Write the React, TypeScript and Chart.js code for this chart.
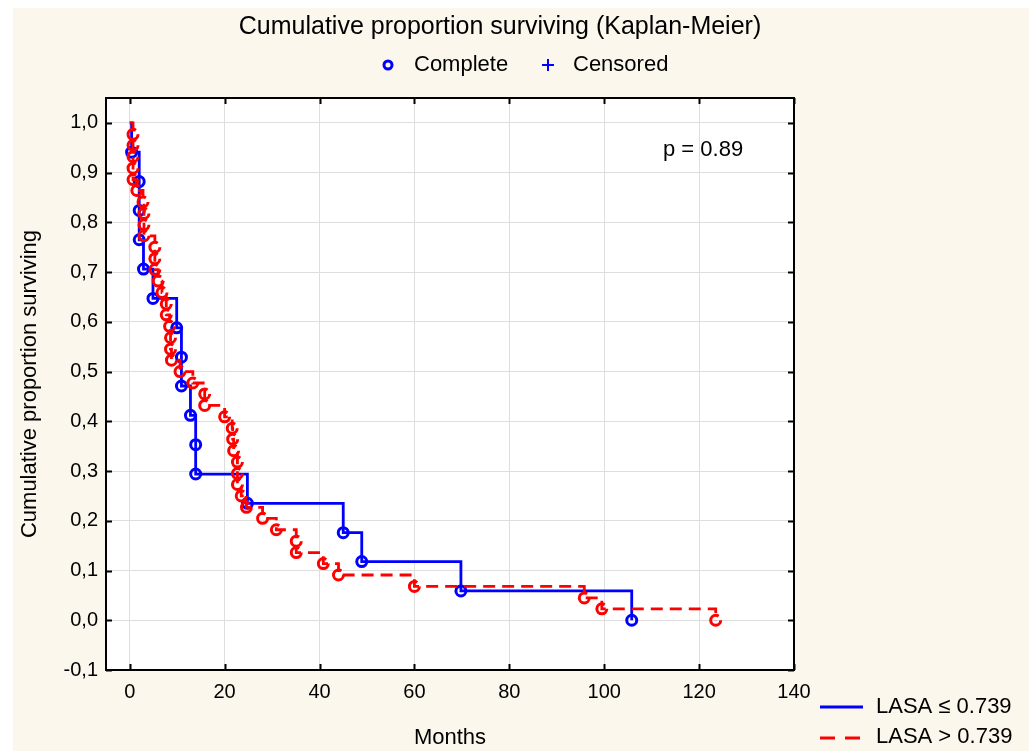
import React, { useEffect, useRef } from "react";
import { Chart, registerables } from "chart.js";

Chart.register(...registerables);

// ---------- text ----------
const chartTitle = "Cumulative proportion surviving (Kaplan-Meier)";
const xAxisTitle = "Months";
const yAxisTitle = "Cumulative proportion surviving";
const pValueText = "p = 0.89";
const seriesNames = ["LASA ≤ 0.739", "LASA > 0.739"];
const markerLegend = ["Complete", "Censored"];

// ---------- ticks ----------
const xTickValues = [0, 20, 40, 60, 80, 100, 120, 140];
const yTickValues = [-0.1, 0, 0.1, 0.2, 0.3, 0.4, 0.5, 0.6, 0.7, 0.8, 0.9, 1.0];
const yTickLabels = ["-0,1", "0,0", "0,1", "0,2", "0,3", "0,4", "0,5", "0,6", "0,7", "0,8", "0,9", "1,0"];

// ---------- series: LASA <= 0.739 (blue) ----------
const blueTimes = [0, 0.4, 2.0, 2.0, 2.0, 2.9, 4.9, 9.9, 10.9, 10.9, 12.8, 13.9, 13.9, 24.8, 45.0, 48.9, 69.8, 105.8];
const blueSurvival = [1.0, 0.941, 0.882, 0.824, 0.765, 0.706, 0.647, 0.588, 0.529, 0.471, 0.412, 0.353, 0.294, 0.235, 0.176, 0.118, 0.059, 0.0];

// ---------- series: LASA > 0.739 (red) ----------
const redTimes = [0, 0.7, 0.7, 0.7, 0.7, 0.7, 1.5, 2.8, 3.0, 3.0, 3.0, 5.3, 5.3, 5.3, 6.0, 6.8, 7.7, 7.7, 8.4, 8.6, 8.6, 8.8, 10.6, 13.3, 15.8, 15.8, 20.0, 21.6, 21.7, 21.9, 22.7, 22.7, 22.7, 23.5, 24.6, 28.0, 30.9, 35.1, 35.1, 40.8, 44.0, 60.0, 95.8, 99.5, 123.5];
const redSurvival = [1.0, 0.977, 0.955, 0.932, 0.909, 0.886, 0.864, 0.841, 0.818, 0.795, 0.773, 0.750, 0.727, 0.705, 0.682, 0.659, 0.636, 0.614, 0.591, 0.568, 0.545, 0.523, 0.500, 0.477, 0.455, 0.432, 0.409, 0.386, 0.364, 0.341, 0.318, 0.295, 0.273, 0.250, 0.227, 0.205, 0.182, 0.159, 0.136, 0.114, 0.091, 0.068, 0.045, 0.023, 0.000];

const BLUE = "#0000ff";
const RED = "#ff0000";
const CREAM = "#fcf7ec";
const FONT = '"Liberation Sans", Arial, sans-serif';

const decorPlugin = {
  id: "decor",
  beforeDraw(chart: any) {
    const { ctx, width, height, chartArea: a } = chart;
    ctx.save();
    ctx.fillStyle = "#ffffff";
    ctx.fillRect(0, 0, width, height);
    ctx.fillStyle = CREAM;
    ctx.fillRect(13, 8, width - 13, height - 8);
    ctx.fillStyle = "#ffffff";
    ctx.fillRect(a.left, a.top, a.right - a.left, a.bottom - a.top);
    ctx.restore();
  },
  beforeDatasetDraw(chart: any, args: any) {
    if (args.index === 0) {
      chart.ctx.save();
      chart.ctx.setLineDash([26, 5]);
    }
  },
  afterDatasetDraw(chart: any, args: any) {
    if (args.index === 0) chart.ctx.restore();
  },
  afterDraw(chart: any) {
    const { ctx, chartArea: a, scales } = chart;
    const xs = scales.x;
    const ys = scales.y;
    ctx.save();
    // frame
    ctx.strokeStyle = "#000";
    ctx.lineWidth = 2;
    ctx.setLineDash([]);
    ctx.strokeRect(a.left, a.top, a.right - a.left, a.bottom - a.top);
    // inward ticks
    ctx.beginPath();
    for (const v of xTickValues) {
      const px = Math.round(xs.getPixelForValue(v)) + 0.5;
      ctx.moveTo(px, a.bottom);
      ctx.lineTo(px, a.bottom - 6);
      ctx.moveTo(px, a.top);
      ctx.lineTo(px, a.top + 6);
    }
    for (const v of yTickValues) {
      const py = Math.round(ys.getPixelForValue(v)) + 0.5;
      ctx.moveTo(a.left, py);
      ctx.lineTo(a.left + 6, py);
      ctx.moveTo(a.right, py);
      ctx.lineTo(a.right - 6, py);
    }
    ctx.stroke();

    // title
    ctx.fillStyle = "#000";
    ctx.textBaseline = "middle";
    ctx.textAlign = "center";
    ctx.font = `25px ${FONT}`;
    ctx.fillText(chartTitle, 500, 27);

    // marker legend
    ctx.font = `22px ${FONT}`;
    ctx.textAlign = "left";
    ctx.strokeStyle = BLUE;
    ctx.lineWidth = 3;
    ctx.beginPath();
    ctx.arc(388, 65, 4, 0, Math.PI * 2);
    ctx.stroke();
    ctx.fillText(markerLegend[0], 414, 65);
    ctx.lineWidth = 2;
    ctx.beginPath();
    ctx.moveTo(542, 65);
    ctx.lineTo(554, 65);
    ctx.moveTo(548, 59);
    ctx.lineTo(548, 71);
    ctx.stroke();
    ctx.fillText(markerLegend[1], 573, 65);

    // p value
    ctx.fillText(pValueText, 663, 150);

    // series legend
    ctx.lineWidth = 3;
    ctx.strokeStyle = BLUE;
    ctx.beginPath();
    ctx.moveTo(820, 707);
    ctx.lineTo(863, 707);
    ctx.stroke();
    ctx.strokeStyle = RED;
    ctx.beginPath();
    ctx.moveTo(820, 738);
    ctx.lineTo(835, 738);
    ctx.moveTo(845, 738);
    ctx.lineTo(860, 738);
    ctx.stroke();
    ctx.fillText(seriesNames[0], 876, 707);
    ctx.fillText(seriesNames[1], 876, 737);
    ctx.restore();
  },
};

export default function App() {
  const canvasRef = useRef<HTMLCanvasElement | null>(null);

  useEffect(() => {
    const canvas = canvasRef.current;
    if (!canvas) return;
    const redData = redTimes.map((t, i) => ({ x: t, y: redSurvival[i] }));
    const blueData = blueTimes.map((t, i) => ({ x: t, y: blueSurvival[i] }));

    const chart = new Chart(canvas, {
      type: "line",
      data: {
        datasets: [
          {
            label: seriesNames[1],
            data: redData,
            borderColor: RED,
            borderWidth: 2.8,
            borderDash: [12, 7],
            stepped: true,
            fill: false,
            pointRadius: (c: any) => (c.dataIndex === 0 ? 0 : 5),
            pointBorderWidth: 3,
            pointBorderColor: RED,
            pointBackgroundColor: "rgba(255,255,255,0)",
            pointStyle: "circle",
          },
          {
            label: seriesNames[0],
            data: blueData,
            borderColor: BLUE,
            borderWidth: 2.8,
            stepped: true,
            fill: false,
            pointRadius: (c: any) => (c.dataIndex === 0 ? 0 : 5),
            pointBorderWidth: 3,
            pointBorderColor: BLUE,
            pointBackgroundColor: "rgba(255,255,255,0)",
            pointStyle: "circle",
          },
        ],
      },
      options: {
        responsive: false,
        animation: false,
        events: [],
        layout: { padding: { top: 98, right: 235, bottom: 0, left: 0 } },
        plugins: {
          legend: { display: false },
          title: { display: false },
          tooltip: { enabled: false },
        },
        scales: {
          x: {
            type: "linear",
            min: -5,
            max: 140,
            afterBuildTicks: (s: any) => {
              s.ticks = xTickValues.map((v) => ({ value: v }));
            },
            afterFit: (s: any) => {
              s.height = 81;
            },
            border: { display: false },
            grid: { color: "#dedede", lineWidth: 1, drawTicks: false },
            ticks: {
              padding: 10,
              color: "#000",
              font: { family: FONT, size: 20 },
              maxRotation: 0,
              autoSkip: false,
              callback: (v: any) => String(v),
            },
            title: {
              display: true,
              text: xAxisTitle,
              color: "#000",
              font: { family: FONT, size: 22 },
              padding: { top: 0, bottom: 0 },
            },
          },
          y: {
            type: "linear",
            min: -0.1,
            max: 1.05,
            afterBuildTicks: (s: any) => {
              s.ticks = yTickValues.map((v) => ({ value: v }));
            },
            afterFit: (s: any) => {
              s.width = 106;
            },
            border: { display: false },
            grid: { color: "#dedede", lineWidth: 1, drawTicks: false },
            ticks: {
              padding: 8,
              color: "#000",
              font: { family: FONT, size: 20 },
              autoSkip: false,
              callback: (_v: any, i: number) => yTickLabels[i],
            },
            title: {
              display: true,
              text: yAxisTitle,
              color: "#000",
              font: { family: FONT, size: 22 },
              padding: { top: 17, bottom: 0 },
            },
          },
        },
      } as any,
      plugins: [decorPlugin],
    });

    return () => {
      chart.destroy();
    };
  }, []);

  return (
    <>
      <style>{`html,body{margin:0;padding:0;background:#fff;}`}</style>
      <canvas ref={canvasRef} width={1029} height={751} style={{ display: "block" }} />
    </>
  );
}
